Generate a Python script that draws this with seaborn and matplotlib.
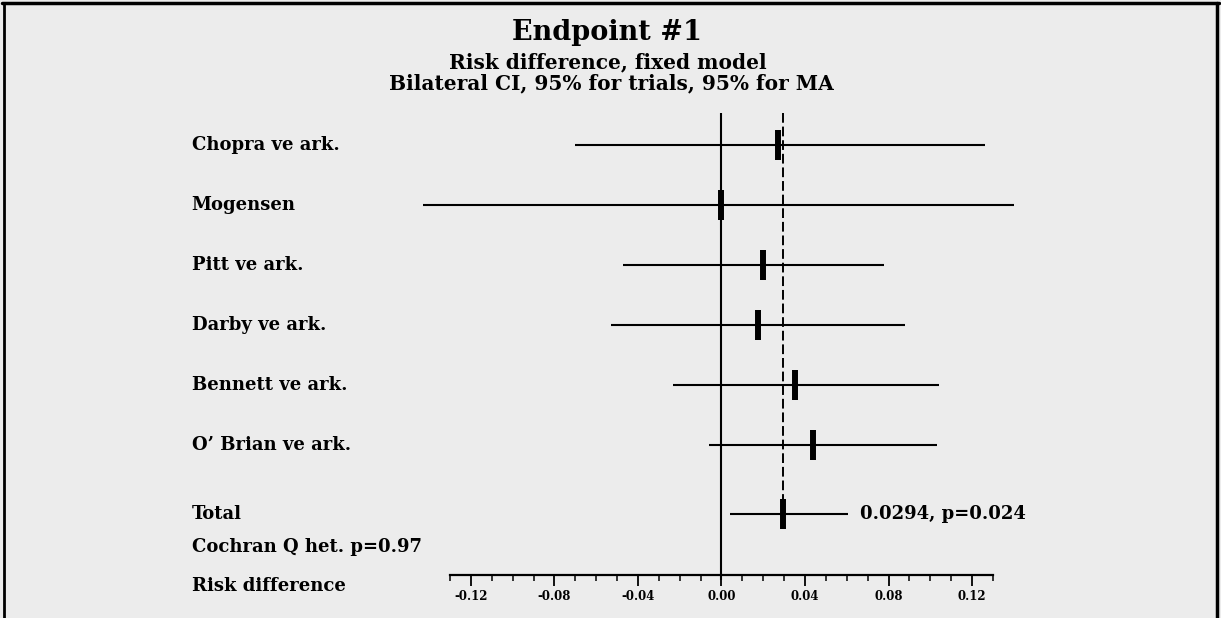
import matplotlib
matplotlib.use("Agg")
import numpy as np
import matplotlib.pyplot as plt
from matplotlib.lines import Line2D
from matplotlib.ticker import FixedLocator, FormatStrFormatter
import seaborn as sns

# Forest plot data
studies = ["Chopra ve ark.", "Mogensen", "Pitt ve ark.", "Darby ve ark.",
           "Bennett ve ark.", "O\u2019 Brian ve ark."]
estimates = [0.027, 0.000, 0.020, 0.0175, 0.035, 0.044]
ci_low = [-0.070, -0.143, -0.047, -0.053, -0.023, -0.006]
ci_high = [0.126, 0.140, 0.078, 0.088, 0.104, 0.103]
total_est = 0.0294
total_low = 0.004
total_high = 0.0605
total_p = 0.024
het_p = 0.97
tick_values = [-0.12, -0.08, -0.04, 0.00, 0.04, 0.08, 0.12]

sns.set_theme(style="white")
plt.rcParams['font.family'] = ['DejaVu Serif']
plt.rcParams['font.weight'] = 'bold'
plt.rcParams['text.color'] = 'black'

bg = '#ececec'
fig = plt.figure(figsize=(12.21, 6.18), dpi=100, facecolor=bg)
ax = fig.add_axes([0, 0, 1, 1])
ax.set_facecolor('none')

# y positions: one row per study, total a bit further down
rows = list(range(len(studies)))
total_row = 6.15
axis_row = 7.17

# confidence intervals
ax.hlines(rows, ci_low, ci_high, color='black', lw=1.5)
ax.hlines([total_row], [total_low], [total_high], color='black', lw=1.5)

# point estimates as small vertical bars
sns.scatterplot(x=estimates + [total_est], y=rows + [total_row], marker='|',
                s=21 ** 2, linewidth=4.3, color='black', ax=ax, zorder=5)

# zero line and pooled estimate line
ax.vlines(0, -0.53, 7.25, color='black', lw=1.5)
ax.vlines(total_est, -0.53, 6.4, color='black', lw=1.4, linestyles=(0, (5, 2)))

# labels on the left
ytr = ax.get_yaxis_transform()
lab_fs = 13
for r, name in zip(rows, studies):
    ax.text(0.157, r, name, transform=ytr, ha='left', va='center', fontsize=lab_fs, fontweight='bold')
ax.text(0.157, total_row, "Total", transform=ytr, ha='left', va='center', fontsize=lab_fs, fontweight='bold')
ax.text(0.157, 6.7, f"Cochran Q het. p={het_p}", transform=ytr, ha='left', va='center',
        fontsize=lab_fs, fontweight='bold')
ax.text(0.157, 7.35, "Risk difference", transform=ytr, ha='left', va='center',
        fontsize=lab_fs, fontweight='bold')
ax.text(0.0665, total_row, f"{total_est}, p={total_p}", ha='left', va='center',
        fontsize=13, fontweight='bold')

# limits so that data maps onto the page like the original
ax.set_xlim(-0.3455, 0.2392)
ax.set_ylim(7.883, -2.4167)

# bottom axis drawn as a floating spine
for s in ['top', 'left', 'right']:
    ax.spines[s].set_visible(False)
ax.spines['bottom'].set_position(('data', axis_row))
ax.spines['bottom'].set_bounds(-0.13, 0.13)
ax.spines['bottom'].set_linewidth(1.6)
ax.spines['bottom'].set_color('black')
ax.set_xticks(tick_values)
ax.xaxis.set_major_formatter(FormatStrFormatter('%.2f'))
minor = [round(v, 2) for v in np.arange(-0.13, 0.1301, 0.01)]
ax.xaxis.set_minor_locator(FixedLocator([v for v in minor if v not in tick_values]))
ax.tick_params(axis='x', which='major', direction='out', length=8, width=1.3,
               labelsize=8.5, pad=3, bottom=True, colors='black')
ax.tick_params(axis='x', which='minor', direction='out', length=4, width=1.1, bottom=True,
               colors='black')
for lab in ax.get_xticklabels():
    lab.set_fontweight('bold')
ax.set_yticks([])

# titles
fig.text(0.497, 1 - 32 / 618, "Endpoint #1", ha='center', va='center', fontsize=19.5, fontweight='bold')
fig.text(0.498, 1 - 62 / 618, "Risk difference, fixed model", ha='center', va='center',
         fontsize=14.5, fontweight='bold')
fig.text(0.501, 1 - 83 / 618, "Bilateral CI, 95% for trials, 95% for MA", ha='center', va='center',
         fontsize=14.5, fontweight='bold')

# page frame (top, left, right)
fig.add_artist(Line2D([0.002, 0.998], [0.995, 0.995], transform=fig.transFigure, color='black', lw=2.5))
fig.add_artist(Line2D([0.003, 0.003], [0, 0.995], transform=fig.transFigure, color='black', lw=2))
fig.add_artist(Line2D([0.997, 0.997], [0, 0.995], transform=fig.transFigure, color='black', lw=2.5))

fig.savefig('out.png', dpi=100, facecolor=bg)
